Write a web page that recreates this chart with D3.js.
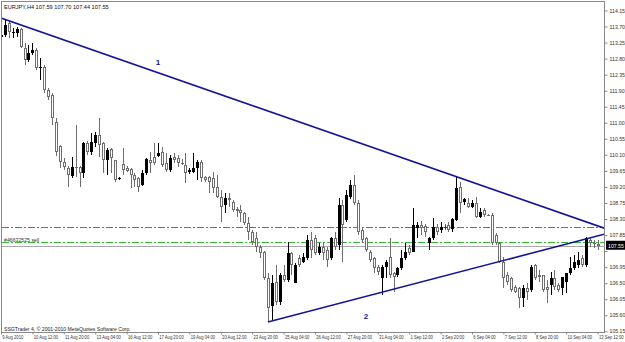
<!DOCTYPE html>
<html>
<head>
<meta charset="utf-8">
<script src="https://cdn.jsdelivr.net/npm/d3@7"></script>
<style>
  body { margin: 0; background: #fff; }
  svg text { font-family: "Liberation Sans", Arial, sans-serif; }
</style>
</head>
<body>
<svg width="625" height="342"></svg>
<script>
// EURJPY H4 bars, 9 Aug - 13 Sep 2010
const opens = [113.41,113.46,113.80,113.52,113.52,113.63,113.10,112.76,112.96,113.04,112.54,112.57,111.92,111.78,111.02,110.35,109.90,109.73,109.51,109.76,
  109.76,109.59,110.43,110.18,110.43,110.66,110.43,109.96,110.26,109.96,109.42,109.84,109.73,109.70,109.54,109.45,109.25,109.59,109.96,110.04,
  110.07,110.18,109.87,109.68,110.04,110.01,109.87,109.82,109.62,109.62,109.73,109.90,109.48,109.48,109.45,109.20,108.92,108.69,108.89,108.78,
  108.58,108.55,108.47,108.19,107.94,107.77,107.52,107.37,106.65,105.86,106.53,105.97,106.73,106.59,107.35,106.50,107.21,107.09,107.21,107.71,
  107.77,107.35,107.52,107.43,107.21,107.77,107.57,108.69,108.27,108.92,109.25,108.75,107.99,107.77,107.37,107.21,106.95,106.64,106.95,107.23,
  106.79,106.73,106.93,107.21,107.49,107.37,108.05,108.13,108.10,107.63,107.77,108.08,107.99,108.08,108.13,108.02,108.27,109.20,108.78,108.75,
  108.64,108.75,108.36,108.55,108.41,108.41,107.85,107.63,107.09,106.73,106.64,106.39,106.36,106.08,106.36,106.31,107.01,106.73,106.73,106.39,
  106.45,106.64,106.45,106.36,106.53,106.79,106.93,107.01,107.21,107.01,107.71,107.63,107.59];
const highs = [113.52,113.88,113.86,113.66,113.69,113.66,113.24,113.18,113.24,113.10,112.82,112.62,111.98,111.84,111.13,110.38,110.01,109.79,110.04,110.94,
  109.79,110.46,110.49,110.71,110.74,111.13,110.46,110.29,110.29,109.96,109.48,110.29,109.79,109.73,109.59,109.48,109.68,110.01,110.18,110.43,
  110.43,110.32,110.15,110.10,110.15,110.10,109.98,110.15,109.73,110.15,109.96,109.96,109.51,109.51,109.62,109.54,109.11,109.03,109.03,108.83,
  108.64,108.69,108.50,108.36,107.99,107.94,107.57,107.40,106.79,106.73,107.01,106.79,107.01,107.66,107.37,107.07,107.29,107.35,107.85,107.94,
  107.85,107.63,107.63,107.52,107.80,107.94,108.89,108.83,109.11,109.40,109.54,108.83,108.05,107.80,107.43,107.23,107.01,107.01,107.15,107.77,
  106.81,106.95,107.43,107.63,107.57,108.61,108.22,108.24,108.16,107.80,108.33,108.16,108.22,108.16,108.22,108.33,109.48,109.34,108.89,108.89,
  108.83,108.92,108.61,108.61,108.44,108.47,107.91,107.66,107.23,106.81,106.67,106.45,106.39,106.45,106.50,107.01,107.04,106.87,106.73,106.59,
  106.81,106.87,106.50,106.67,106.79,107.23,107.29,107.37,107.29,107.80,107.80,107.71,107.70];
const lows = [113.38,113.41,113.38,113.38,113.41,113.10,112.62,112.71,112.90,112.48,112.20,111.84,111.64,110.94,110.07,109.73,109.68,109.20,109.45,109.48,
  109.20,109.45,110.10,110.10,110.32,110.04,109.59,109.54,109.59,109.34,109.40,109.54,109.62,109.17,109.20,109.06,109.23,109.54,109.59,109.82,
  110.04,109.76,109.62,109.62,109.87,109.76,109.82,109.31,109.56,109.59,109.40,109.34,109.34,109.03,109.03,108.89,108.22,108.47,108.64,108.50,
  108.36,108.22,108.13,107.71,107.57,107.37,107.21,106.59,105.41,105.47,105.89,105.89,106.53,106.53,106.73,106.50,106.95,107.07,107.15,107.21,
  107.29,107.29,107.15,106.95,107.15,107.43,107.43,107.09,108.22,108.86,108.69,107.85,107.63,107.37,107.09,106.79,106.73,106.17,106.64,106.64,
  106.25,106.67,106.87,107.15,107.29,107.37,107.77,107.85,107.80,107.43,107.71,107.85,107.91,107.99,107.94,107.94,108.24,108.47,108.69,108.61,
  108.61,108.33,108.33,108.36,108.38,107.57,107.57,107.07,106.36,106.45,106.25,106.22,105.80,105.83,106.03,106.25,106.59,106.53,106.25,105.94,
  106.17,106.31,106.25,106.17,106.22,106.73,106.87,106.93,106.95,106.95,107.52,107.49,107.44];
const closes = [113.46,113.74,113.55,113.55,113.63,113.13,112.76,112.96,113.04,112.54,112.57,111.92,111.72,111.13,110.18,109.90,109.76,109.54,109.76,109.73,
  109.59,110.43,110.18,110.46,110.66,110.38,109.96,110.24,110.01,109.40,109.45,109.68,109.65,109.54,109.40,109.20,109.59,109.98,109.87,109.87,
  110.15,109.82,109.68,110.01,109.96,109.87,109.84,109.59,109.68,109.73,109.90,109.45,109.40,109.34,109.17,108.92,108.64,108.89,108.83,108.55,
  108.53,108.47,108.19,107.94,107.66,107.52,107.35,106.65,105.80,106.50,105.97,106.73,106.59,107.35,107.01,107.01,107.01,107.23,107.71,107.43,
  107.35,107.52,107.35,107.15,107.77,107.52,108.69,108.13,108.97,109.25,108.75,107.94,107.71,107.43,107.15,106.93,106.81,106.95,107.09,106.73,
  106.67,106.93,107.21,107.37,107.35,108.13,108.13,108.05,107.94,107.77,108.08,107.94,108.08,108.05,107.99,108.30,109.17,108.75,108.86,108.64,
  108.75,108.36,108.50,108.41,108.40,107.63,107.63,107.09,106.64,106.53,106.31,106.25,106.08,106.36,106.25,106.95,106.64,106.67,106.31,106.31,
  106.64,106.39,106.31,106.67,106.79,106.93,107.09,107.15,107.01,107.77,107.63,107.60,107.55];

const timeLabels = ["9 Aug 2010","10 Aug 12:00","11 Aug 20:00","13 Aug 04:00","16 Aug 12:00","17 Aug 20:00","19 Aug 04:00",
  "20 Aug 12:00","23 Aug 20:00","25 Aug 04:00","26 Aug 12:00","27 Aug 20:00","31 Aug 04:00","1 Sep 12:00",
  "2 Sep 20:00","6 Sep 04:00","7 Sep 12:00","8 Sep 20:00","10 Sep 04:00","13 Sep 12:00"];
const labelEvery = 8;
const priceTicks = [114.15,113.70,113.25,112.80,112.35,111.90,111.45,111.00,110.55,110.10,109.65,109.20,108.75,
  108.30,107.85,107.40,106.95,106.50,106.05,105.60,105.15];

// trend lines: [bar, price] anchor pairs, drawn as rays
const trendLine1 = [[0, 113.94], [116, 109.49]];
const trendLine2 = [[68, 105.41], [149, 107.74]];
const trendLabels = [{ text: "1", bar: 40, price: 112.70 }, { text: "2", bar: 93, price: 105.56 }];

const redLevel = 108.08;
const greenLevel = 107.66;
const bidPrice = 107.55;
const orderLabel = "#46632525 sell";
const orderBar = 113;
const title = "EURJPY,H4 107.59 107.70 107.44 107.55";
const copyright = "SSGTrader 4, \u00a9 2001-2010 MetaQuotes Software Corp.";

const svg = d3.select("svg");
const pLeft = 2, pRight = 605, pTop = 2, pBottom = 333;

const x = d3.scaleLinear().domain([0, 152]).range([1, 597.6]);
const y = d3.scaleLinear().domain([105.15, 114.15]).range([331.3, 10.5]);

svg.append("defs").append("clipPath").attr("id", "plot")
  .append("rect").attr("x", pLeft).attr("y", pTop).attr("width", pRight - pLeft).attr("height", pBottom - pTop);

// frame
svg.append("rect")
  .attr("x", pLeft - 0.5).attr("y", pTop - 0.5)
  .attr("width", pRight - pLeft).attr("height", pBottom - pTop)
  .attr("fill", "none").attr("stroke", "#888");

const plot = svg.append("g").attr("clip-path", "url(#plot)");

// horizontal levels
function level(price, color, dash) {
  const yy = Math.round(y(price)) + 0.5;
  plot.append("line")
    .attr("x1", pLeft).attr("x2", pRight).attr("y1", yy).attr("y2", yy)
    .attr("stroke", color).attr("stroke-width", 1)
    .attr("stroke-dasharray", dash);
}
level(redLevel, "#ff3333", "7,2,2,2");
level(greenLevel, "#33bb33", "7,2,2,2");
level(bidPrice, "#a8a8a8", null);

// candles
const bars = d3.range(closes.length).map(i => ({
  i: i, o: opens[i], h: highs[i], l: lows[i], c: closes[i]
}));

const candle = plot.selectAll(".candle")
  .data(bars)
  .enter().append("g")
  .attr("class", "candle")
  .attr("shape-rendering", "crispEdges");

candle.append("line")
  .attr("x1", d => Math.round(x(d.i)) + 0.5)
  .attr("x2", d => Math.round(x(d.i)) + 0.5)
  .attr("y1", d => Math.round(y(d.h)))
  .attr("y2", d => Math.round(y(d.l)))
  .attr("stroke", d => d.c >= d.o ? "#000" : "#6e6e6e");

candle.append("rect")
  .attr("x", d => Math.round(x(d.i)) - 1)
  .attr("width", 3)
  .attr("y", d => Math.round(y(Math.max(d.o, d.c))))
  .attr("height", d => Math.max(1, Math.round(y(Math.min(d.o, d.c))) - Math.round(y(Math.max(d.o, d.c)))))
  .attr("fill", d => d.c >= d.o ? "#000" : "#6e6e6e");

candle.filter(d => d.c < d.o)
  .append("rect")
  .attr("x", d => Math.round(x(d.i)))
  .attr("width", 1)
  .attr("y", d => Math.round(y(d.o)) + 1)
  .attr("height", d => Math.max(0, Math.round(y(d.c)) - Math.round(y(d.o)) - 2))
  .attr("fill", "#fff");

// order marker
const ox = Math.round(x(orderBar)) + 0.5, oy = Math.round(y(redLevel)) + 0.5;
plot.append("path")
  .attr("d", `M${ox - 2},${oy}H${ox + 2}M${ox},${oy - 2}V${oy + 2}`)
  .attr("stroke", "#2020ff").attr("stroke-width", 1);

// trend lines (rays)
function ray(pts) {
  const [[b1, p1], [b2, p2]] = pts;
  const slope = (p2 - p1) / (b2 - b1);
  const bEnd = x.invert(pRight);
  plot.append("line")
    .attr("x1", x(b1)).attr("y1", y(p1))
    .attr("x2", x(bEnd)).attr("y2", y(p1 + slope * (bEnd - b1)))
    .attr("stroke", "#14149a").attr("stroke-width", 1.6);
}
ray(trendLine1);
ray(trendLine2);

svg.selectAll(".tl-label")
  .data(trendLabels)
  .enter().append("text")
  .attr("x", d => x(d.bar)).attr("y", d => y(d.price))
  .attr("text-anchor", "middle").attr("dy", "0.35em")
  .attr("font-size", 8).attr("font-weight", "bold")
  .attr("fill", "#14149a")
  .text(d => d.text);

// texts inside chart
svg.append("text").attr("x", 4).attr("y", 9)
  .attr("font-size", 5.6).attr("fill", "#111").text(title);
svg.append("text").attr("x", 4).attr("y", Math.round(y(greenLevel)) - 0.5)
  .attr("font-size", 5.2).attr("fill", "#333").text(orderLabel);
svg.append("text").attr("x", 4).attr("y", 331)
  .attr("font-size", 5.1).attr("fill", "#222").text(copyright);

// price axis
const yAxis = d3.axisRight(y).tickValues(priceTicks).tickSize(3).tickPadding(2)
  .tickFormat(d => d === 107.40 ? "" : d.toFixed(2));
svg.append("g")
  .attr("transform", `translate(${pRight - 0.5},0)`)
  .call(yAxis)
  .call(g => {
    g.select(".domain").attr("stroke", "#888").attr("d", `M0,${pTop - 0.5}V${pBottom - 0.5}`);
    g.selectAll(".tick line").attr("stroke", "#888");
    g.selectAll(".tick text").attr("font-size", 5.2).attr("fill", "#333")
      .attr("font-family", "Liberation Sans, Arial, sans-serif");
  });

// bid price box
const by = y(bidPrice);
svg.append("rect").attr("x", 606).attr("y", by - 5).attr("width", 19).attr("height", 9).attr("fill", "#000");
svg.append("text").attr("x", 608).attr("y", by + 2)
  .attr("font-size", 5.2).attr("fill", "#fff").text(bidPrice.toFixed(2));

// time axis
const xAxis = d3.axisBottom(x)
  .tickValues(timeLabels.map((d, k) => k * labelEvery))
  .tickSize(2).tickPadding(1)
  .tickFormat((d, k) => timeLabels[k]);
svg.append("g")
  .attr("transform", `translate(0,${pBottom - 0.5})`)
  .call(xAxis)
  .call(g => {
    g.select(".domain").remove();
    g.selectAll(".tick line").attr("stroke", "#888");
    g.selectAll(".tick text").attr("text-anchor", "start").attr("x", 1)
      .attr("font-size", 5.2).attr("fill", "#333")
      .attr("transform", "scale(0.8,1)")
      .attr("font-family", "Liberation Sans, Arial, sans-serif");
  });
</script>
</body>
</html>
